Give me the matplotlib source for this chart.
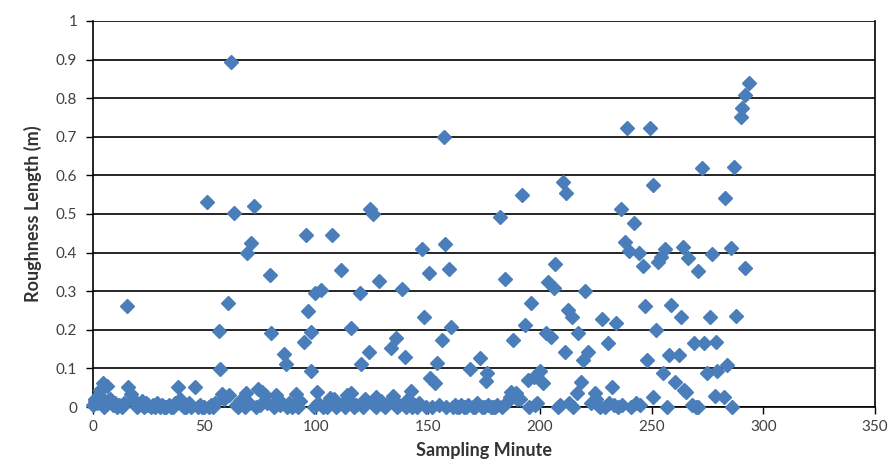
import matplotlib
matplotlib.use("Agg")
import matplotlib.pyplot as plt
from matplotlib.ticker import MultipleLocator, FuncFormatter

# ── data ─────────────────────────────────────────────────────────────────────
# minutes with clearly raised roughness values
peak_minute = [
    15.5, 51.0, 62.0, 60.6, 56.5, 57.2, 63.2, 69.3, 71.1, 72.3,
    79.4, 80.0, 85.7, 86.6, 94.6, 95.3, 96.4, 97.8, 97.5, 99.6,
    102.0, 107.3, 111.2, 115.4, 119.5, 120.2, 123.7, 124.3, 125.5, 128.2,
    133.6, 135.8, 138.5, 139.8, 147.4, 148.3, 150.4, 151.0, 153.0, 154.2,
    156.3, 157.7, 159.5, 160.4, 157.0, 169.0, 173.4, 176.5, 176.0, 182.3,
    184.6, 188.2, 192.2, 193.5, 194.8, 196.2, 197.5, 200.2, 201.6, 202.9,
    203.8, 205.1, 206.5, 207.0, 210.5, 211.4, 211.9, 212.8, 214.5, 217.2,
    218.6, 219.5, 220.4, 221.7, 228.0, 230.7, 234.2, 236.5, 238.3, 239.2,
    240.0, 242.2, 244.5, 246.3, 247.2, 248.1, 249.4, 250.8, 252.1, 253.0,
    254.4, 255.2, 256.2, 257.9, 258.8, 260.6, 262.4, 263.3, 264.2, 264.7,
    266.4, 269.1, 270.9, 272.7, 273.6, 274.9, 276.3, 277.2, 279.0, 279.4,
    283.0, 283.9, 285.7, 287.0, 287.9, 289.9, 290.6, 291.9, 292.0, 293.7,
]
peak_rough = [
    0.262, 0.532, 0.894, 0.270, 0.196, 0.098, 0.502, 0.400, 0.424, 0.520,
    0.341, 0.193, 0.138, 0.112, 0.168, 0.446, 0.249, 0.195, 0.094, 0.295,
    0.303, 0.446, 0.356, 0.205, 0.296, 0.111, 0.142, 0.514, 0.500, 0.326,
    0.153, 0.178, 0.305, 0.130, 0.409, 0.233, 0.348, 0.075, 0.062, 0.113,
    0.173, 0.422, 0.357, 0.207, 0.700, 0.098, 0.127, 0.088, 0.068, 0.492,
    0.331, 0.174, 0.549, 0.212, 0.070, 0.270, 0.078, 0.093, 0.062, 0.192,
    0.324, 0.181, 0.308, 0.370, 0.583, 0.142, 0.555, 0.251, 0.233, 0.192,
    0.065, 0.122, 0.301, 0.142, 0.228, 0.166, 0.218, 0.513, 0.428, 0.722,
    0.404, 0.477, 0.399, 0.365, 0.262, 0.122, 0.722, 0.576, 0.200, 0.376,
    0.389, 0.088, 0.410, 0.135, 0.264, 0.065, 0.135, 0.233, 0.415, 0.044,
    0.386, 0.166, 0.352, 0.619, 0.166, 0.088, 0.233, 0.396, 0.168, 0.093,
    0.541, 0.109, 0.412, 0.622, 0.236, 0.752, 0.775, 0.808, 0.360, 0.839,
]

# small but visible values just above the baseline
low_minute = [
    1, 3.5, 4.7, 6.5, 15.9, 38.3, 45.9, 68.7, 74, 76,
    82, 91, 100.5, 106, 115.6, 126.8, 134.5, 142.5, 186.8, 189.5,
    191, 216.5, 224.6, 232.4, 250.8, 265.5, 278.5, 282.5,
]
low_rough = [
    0.015, 0.045, 0.063, 0.055, 0.052, 0.052, 0.052, 0.036, 0.046, 0.040,
    0.030, 0.034, 0.040, 0.023, 0.036, 0.026, 0.028, 0.041, 0.026, 0.036,
    0.020, 0.036, 0.036, 0.052, 0.026, 0.039, 0.028, 0.026,
]

# minutes sitting on (or very near) zero
base_minute = [
    0, 1, 2, 3, 5, 7, 8, 9, 10, 11,
    12, 13, 14, 17, 18, 19, 20, 21, 22, 23,
    24, 25, 26, 27, 28, 29, 30, 31, 32, 33,
    34, 35, 36, 37, 39, 40, 41, 42, 43, 44,
    47, 48, 49, 50, 52, 53, 54, 55, 58, 59,
    61, 64, 65, 66, 67, 68, 70, 73, 75, 77,
    78, 81, 83, 84, 87, 88, 89, 90, 92, 93,
    99, 101, 103, 104, 105, 108, 109, 110, 112, 113,
    114, 116, 117, 118, 121, 122, 126, 127, 129, 130,
    131, 132, 136, 137, 140, 141, 143, 144, 145, 146,
    149, 152, 155, 158, 161, 162, 163, 164, 165, 166,
    167, 168, 170, 171, 172, 174, 175, 177, 178, 179,
    180, 181, 183, 185, 187, 190, 195, 198, 199, 208,
    209, 213, 215, 223, 225, 226, 227, 229, 231, 233,
    235, 237, 241, 243, 245, 257, 268, 270, 271, 286,
]
base_rough = [
    0.005, 0.020, 0.010, 0.030, 0.000, 0.015, 0.020, 0.005, 0.010, 0.000,
    0.005, 0.000, 0.010, 0.035, 0.020, 0.010, 0.000, 0.005, 0.015, 0.000,
    0.010, 0.005, 0.000, 0.005, 0.000, 0.010, 0.000, 0.005, 0.000, 0.000,
    0.005, 0.000, 0.000, 0.010, 0.020, 0.005, 0.000, 0.000, 0.010, 0.000,
    0.000, 0.005, 0.000, 0.000, 0.000, 0.005, 0.000, 0.010, 0.035, 0.020,
    0.030, 0.005, 0.000, 0.015, 0.020, 0.000, 0.010, 0.000, 0.005, 0.030,
    0.010, 0.000, 0.020, 0.005, 0.000, 0.010, 0.000, 0.005, 0.000, 0.015,
    0.000, 0.010, 0.000, 0.005, 0.000, 0.020, 0.000, 0.005, 0.010, 0.000,
    0.030, 0.010, 0.000, 0.005, 0.000, 0.020, 0.005, 0.000, 0.015, 0.005,
    0.000, 0.010, 0.000, 0.005, 0.000, 0.020, 0.000, 0.005, 0.000, 0.010,
    0.000, 0.000, 0.005, 0.000, 0.000, 0.005, 0.000, 0.000, 0.005, 0.000,
    0.000, 0.005, 0.000, 0.000, 0.010, 0.000, 0.000, 0.005, 0.000, 0.000,
    0.000, 0.005, 0.000, 0.010, 0.040, 0.020, 0.000, 0.005, 0.010, 0.000,
    0.005, 0.010, 0.000, 0.010, 0.020, 0.005, 0.000, 0.000, 0.010, 0.005,
    0.000, 0.005, 0.000, 0.010, 0.005, 0.000, 0.005, 0.000, 0.000, 0.000,
]

minute = base_minute + low_minute + peak_minute
rough = base_rough + low_rough + peak_rough

BLUE = "#4A7EBB"
TICK_GREY = "#404040"
plt.rcParams["font.family"] = ["Lato", "DejaVu Sans"]

# ── plot ─────────────────────────────────────────────────────────────────────
fig = plt.figure(figsize=(8.93, 4.75), dpi=100)
ax = fig.add_axes([0.1036, 0.143, 0.8764, 0.813])

ax.plot(minute, rough, linestyle="none", marker="D", markersize=6.8,
        color=BLUE, markeredgecolor=BLUE, zorder=3, clip_on=False)

ax.set_xlim(0, 350)
ax.set_ylim(0, 1)
ax.xaxis.set_major_locator(MultipleLocator(50))
ax.yaxis.set_major_locator(MultipleLocator(0.1))
ax.yaxis.set_major_formatter(FuncFormatter(lambda v, _: f"{v:g}"))

ax.grid(axis="y", color="black", linewidth=1.2)
ax.set_axisbelow(True)
for side in ["left", "bottom", "right"]:
    ax.spines[side].set_color("black")
    ax.spines[side].set_linewidth(1.2)
ax.spines["top"].set_visible(False)

ax.tick_params(axis="both", direction="out", length=5, width=1,
               color="black", labelsize=11, labelcolor=TICK_GREY)
ax.tick_params(axis="x", pad=4)
ax.tick_params(axis="y", pad=6)

ax.set_xlabel("Sampling Minute", fontsize=13, fontweight="bold",
              color="#333333", labelpad=6)
ax.set_ylabel("Roughness Length (m)", fontsize=13, fontweight="bold",
              color="#333333", labelpad=10)

fig.savefig("out.png", dpi=100)
